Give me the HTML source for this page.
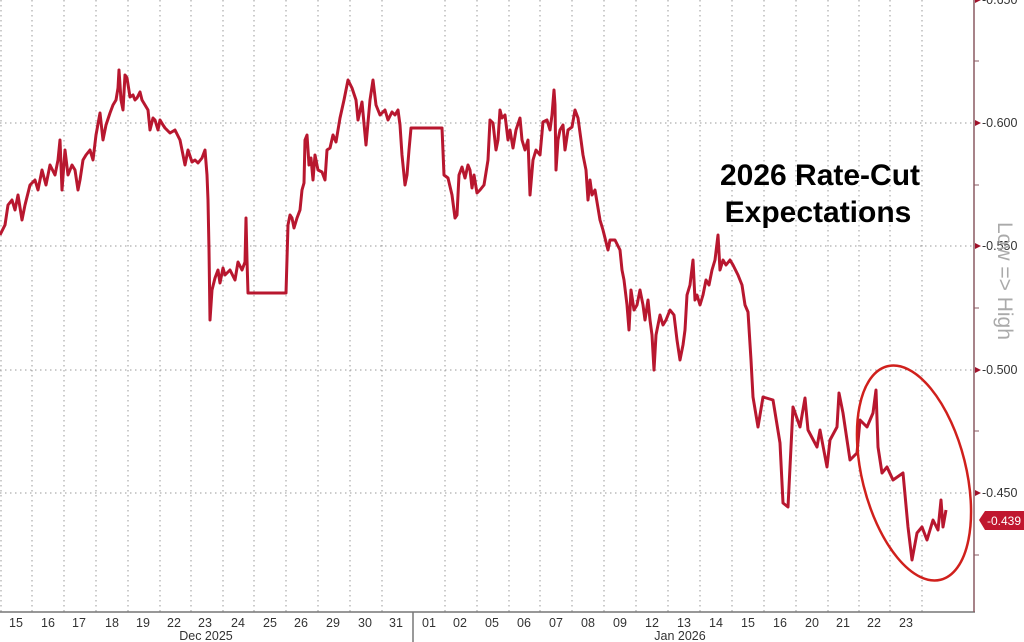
<!DOCTYPE html>
<html><head><meta charset="utf-8"><style>
body{margin:0;background:#fff;}
svg{display:block;font-family:"Liberation Sans",sans-serif;}
</style></head><body>
<svg width="1024" height="642" viewBox="0 0 1024 642">
<g stroke="#999" stroke-width="1" stroke-dasharray="1.5,3.5">
<line x1="0" y1="123" x2="974" y2="123"/><line x1="0" y1="246" x2="974" y2="246"/>
<line x1="0" y1="370" x2="974" y2="370"/><line x1="0" y1="493" x2="974" y2="493"/>
<line x1="1" y1="0" x2="1" y2="612"/>
<line x1="32" y1="0" x2="32" y2="612"/><line x1="64" y1="0" x2="64" y2="612"/><line x1="96" y1="0" x2="96" y2="612"/><line x1="128" y1="0" x2="128" y2="612"/><line x1="160" y1="0" x2="160" y2="612"/><line x1="191" y1="0" x2="191" y2="612"/><line x1="223" y1="0" x2="223" y2="612"/><line x1="254" y1="0" x2="254" y2="612"/><line x1="286" y1="0" x2="286" y2="612"/><line x1="318" y1="0" x2="318" y2="612"/><line x1="350" y1="0" x2="350" y2="612"/><line x1="382" y1="0" x2="382" y2="612"/><line x1="445" y1="0" x2="445" y2="612"/><line x1="477" y1="0" x2="477" y2="612"/><line x1="509" y1="0" x2="509" y2="612"/><line x1="540" y1="0" x2="540" y2="612"/><line x1="572" y1="0" x2="572" y2="612"/><line x1="604" y1="0" x2="604" y2="612"/><line x1="636" y1="0" x2="636" y2="612"/><line x1="668" y1="0" x2="668" y2="612"/><line x1="700" y1="0" x2="700" y2="612"/><line x1="732" y1="0" x2="732" y2="612"/><line x1="764" y1="0" x2="764" y2="612"/><line x1="796" y1="0" x2="796" y2="612"/><line x1="828" y1="0" x2="828" y2="612"/><line x1="859" y1="0" x2="859" y2="612"/><line x1="890" y1="0" x2="890" y2="612"/><line x1="922" y1="0" x2="922" y2="612"/>
</g>
<line x1="0" y1="612" x2="975" y2="612" stroke="#777" stroke-width="1.5"/>
<line x1="974" y1="0" x2="974" y2="612" stroke="#8a5a62" stroke-width="1.5"/>
<line x1="413" y1="612" x2="413" y2="642" stroke="#777" stroke-width="1.5"/>
<g stroke="#8a5a62" stroke-width="1">
<line x1="974" y1="61" x2="979" y2="61"/><line x1="974" y1="185" x2="979" y2="185"/><line x1="974" y1="308" x2="979" y2="308"/><line x1="974" y1="431" x2="979" y2="431"/><line x1="974" y1="555" x2="979" y2="555"/>
</g>
<g fill="#a0102a"><polygon points="975,120 981,123 975,126"/><polygon points="975,243 981,246 975,249"/><polygon points="975,367 981,370 975,373"/><polygon points="975,490 981,493 975,496"/><polygon points="975,-3 981,0 975,3"/></g>
<g font-size="12.5" fill="#333">
<text x="982" y="4">-0.650</text><text x="982" y="127">-0.600</text><text x="982" y="250">-0.550</text><text x="982" y="374">-0.500</text><text x="982" y="497">-0.450</text>
</g>
<polygon points="979,520 985,511 1024,511 1024,530 985,530" fill="#c0172f"/>
<text x="987" y="525" font-size="12" fill="#fff">-0.439</text>
<text transform="translate(998,222) rotate(90)" font-size="21" fill="#aaa">Low =&gt; High</text>
<g font-size="12.5" fill="#333" text-anchor="middle">
<text x="16" y="627">15</text><text x="48" y="627">16</text><text x="79" y="627">17</text><text x="112" y="627">18</text><text x="143" y="627">19</text><text x="174" y="627">22</text><text x="205" y="627">23</text><text x="238" y="627">24</text><text x="270" y="627">25</text><text x="301" y="627">26</text><text x="333" y="627">29</text><text x="365" y="627">30</text><text x="396" y="627">31</text><text x="429" y="627">01</text><text x="460" y="627">02</text><text x="492" y="627">05</text><text x="524" y="627">06</text><text x="556" y="627">07</text><text x="588" y="627">08</text><text x="620" y="627">09</text><text x="652" y="627">12</text><text x="684" y="627">13</text><text x="716" y="627">14</text><text x="748" y="627">15</text><text x="780" y="627">16</text><text x="812" y="627">20</text><text x="843" y="627">21</text><text x="874" y="627">22</text><text x="906" y="627">23</text>
<text x="206" y="640">Dec 2025</text><text x="680" y="640">Jan 2026</text>
</g>
<polyline fill="none" stroke="#b8172f" stroke-width="3" stroke-linejoin="round" points="0,235 5,225 8,205 12,200 15,210 18,195 22,220 25,205 30,185 35,180 38,190 42,170 46,185 50,165 55,175 58,160 60,140 62,190 65,150 68,175 72,165 75,170 78,190 80,180 83,160 86,155 90,150 93,160 96,135 100,113 103,140 106,125 110,113 113,105 116,100 118,88 119,70 121,100 123,110 125,75 127,78 130,97 133,95 135,100 137,98 140,92 142,100 145,105 148,110 150,130 153,118 155,120 158,130 160,120 163,125 165,128 170,133 175,130 180,140 183,155 185,165 188,150 192,162 195,160 198,163 202,158 205,150 207,175 208,200 209,250 210,320 212,290 215,278 218,270 220,283 223,268 225,275 230,270 235,280 238,262 242,270 245,262 246,218 247,260 248,293 286,293 288,225 290,215 292,218 294,228 297,218 300,210 302,190 304,183 305,140 307,135 309,165 311,158 313,180 315,155 318,170 322,172 325,180 327,150 330,148 333,135 336,142 340,118 344,100 348,80 352,88 356,100 358,120 362,102 366,145 370,100 373,80 376,105 380,115 385,110 388,120 392,112 395,115 398,110 400,125 402,155 405,185 407,175 409,150 411,128 413,128 442,128 444,175 448,178 452,195 455,218 457,215 459,175 462,167 465,178 468,165 470,170 472,188 474,175 477,193 480,190 484,185 488,160 490,120 493,123 496,150 498,140 500,110 502,118 505,115 508,140 510,130 513,148 516,130 520,118 522,140 525,150 528,140 530,195 533,160 536,150 540,155 543,122 547,120 550,130 552,115 554,90 555,105 556,170 558,140 560,130 563,125 565,150 568,130 572,127 575,110 578,118 581,140 583,155 586,170 588,200 590,180 592,195 595,190 600,220 603,230 608,250 610,240 615,240 620,250 622,270 624,280 627,305 629,330 631,290 634,310 637,305 640,290 643,305 645,320 648,300 650,320 652,335 654,370 656,335 660,315 663,325 666,320 670,310 674,315 677,340 680,360 683,345 685,330 687,295 690,285 693,260 695,300 697,295 700,305 703,295 706,280 709,285 712,270 715,260 718,235 720,270 723,260 726,265 730,260 733,265 738,275 742,285 745,305 748,312 751,360 753,397 758,427 763,397 773,400 780,443 783,503 788,507 793,407 800,427 805,398 808,430 817,447 820,430 827,467 830,440 837,427 839,393 843,413 847,440 850,460 857,453 860,420 867,427 873,413 876,390 878,447 882,473 887,467 893,480 903,473 908,527 912,560 917,533 922,527 927,540 933,520 938,530 941,500 943,527 946,510"/>
<ellipse cx="914" cy="473" rx="52" ry="110" transform="rotate(-14 914 473)" fill="none" stroke="#d0201c" stroke-width="2.5"/>
<g font-size="30" font-weight="bold" fill="#000" text-anchor="middle">
<text x="820" y="185">2026 Rate-Cut</text><text x="818" y="222">Expectations</text>
</g>
</svg>
</body></html>
